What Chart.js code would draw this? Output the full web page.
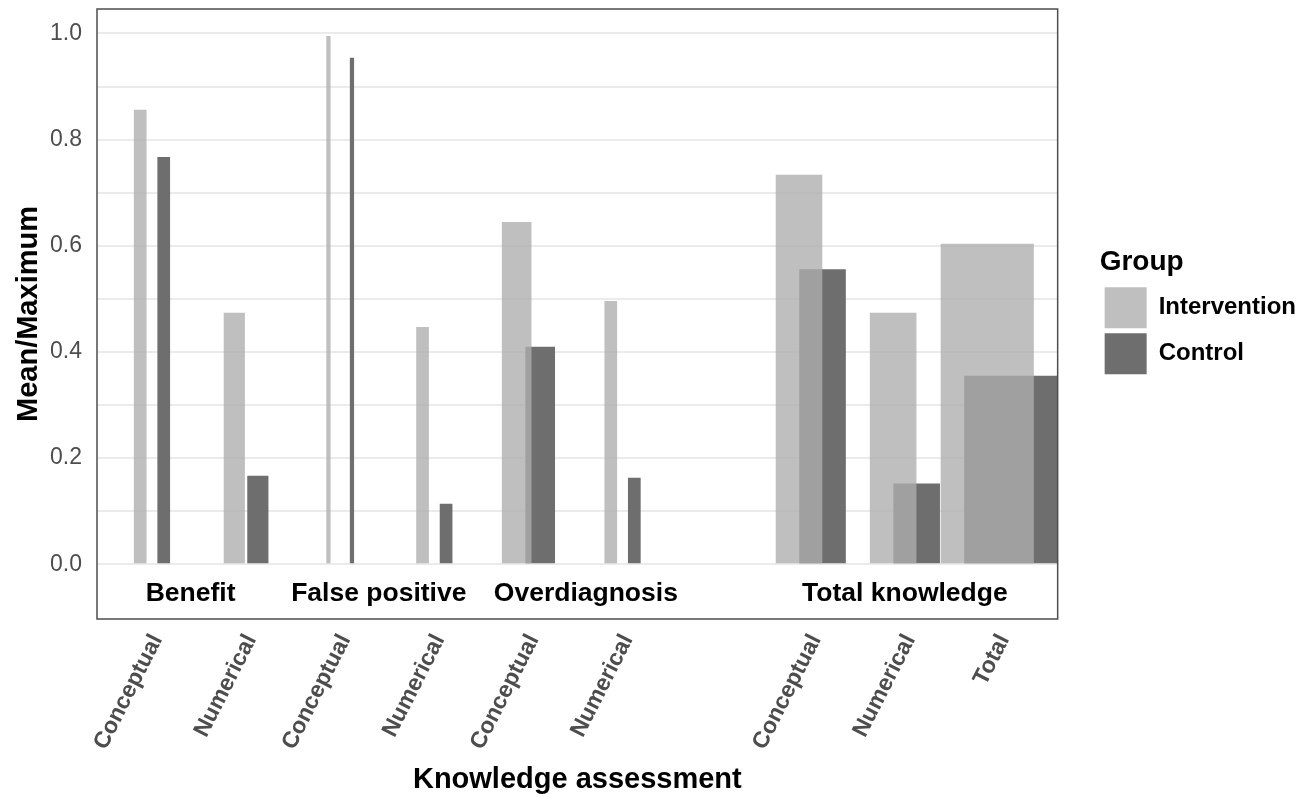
<!DOCTYPE html>
<html>
<head>
<meta charset="utf-8">
<script src="https://cdn.jsdelivr.net/npm/chart.js@4"></script>
<style>
  html, body { margin: 0; padding: 0; background: #fff; }
  #wrap { width: 1309px; height: 797px; }
</style>
</head>
<body>
<div id="wrap"><canvas id="chart"></canvas></div>
<script>
// item types along the x axis (slot 6 is left empty as a gap)
const slotLabels = ['Conceptual', 'Numerical', 'Conceptual', 'Numerical', 'Conceptual', 'Numerical', 'Conceptual', 'Numerical', 'Total'];
const slotPos = [0, 1, 2, 3, 4, 5, 7, 8, 9];
// number of questions behind each item type -> bar width
const itemCounts = [3, 5, 1, 3, 7, 3, 11, 11, 22];
// mean / maximum per group
const intervention = [0.856, 0.474, 0.995, 0.447, 0.645, 0.496, 0.734, 0.474, 0.604];
const control = [0.767, 0.167, 0.954, 0.114, 0.410, 0.163, 0.556, 0.152, 0.355];
// block headings drawn inside the panel
const groupLabels = ['Benefit', 'False positive', 'Overdiagnosis', 'Total knowledge'];
const groupLabelPos = [0.41, 2.41, 4.61, 8.0];
const yTicks = [0, 0.1, 0.2, 0.3, 0.4, 0.5, 0.6, 0.7, 0.8, 0.9, 1.0];

const dodge = 0.125;
const itemWidth = 0.045;   // x units per question
const minGap = 0.25;       // smallest gap between bar centres (what Chart.js uses as a "category")

Chart.defaults.font.family = '"Liberation Sans", Arial, Helvetica, sans-serif';
Chart.defaults.color = '#4d4d4d';

const datasets = [];
slotPos.forEach((pos, i) => {
    const ratio = itemCounts[i] * itemWidth / minGap;
    datasets.push({
        label: 'Intervention', data: [{ x: pos - dodge, y: intervention[i] }],
        backgroundColor: 'rgba(174,174,174,0.79)', borderWidth: 0,
        grouped: false, categoryPercentage: 1, barPercentage: ratio, order: 0
    });
    datasets.push({
        label: 'Control', data: [{ x: pos + dodge, y: control[i] }],
        backgroundColor: 'rgb(110,110,110)', borderWidth: 0,
        grouped: false, categoryPercentage: 1, barPercentage: ratio, order: 1
    });
});

const panelExtras = {
    id: 'panelExtras',
    afterDatasetsDraw(chart) {
        const { ctx, chartArea: a, scales: { x, y } } = chart;
        ctx.save();
        ctx.font = 'bold 26.5px "Liberation Sans", Arial, sans-serif';
        ctx.fillStyle = '#000';
        ctx.textAlign = 'center';
        ctx.textBaseline = 'middle';
        groupLabels.forEach((t, i) => ctx.fillText(t, x.getPixelForValue(groupLabelPos[i]), y.getPixelForValue(-0.056)));
        ctx.strokeStyle = '#4d4d4d';
        ctx.lineWidth = 1.5;
        ctx.strokeRect(a.left, a.top, a.right - a.left, a.bottom - a.top);
        ctx.restore();
    }
};

new Chart(document.getElementById('chart'), {
    type: 'bar',
    data: { datasets },
    plugins: [panelExtras],
    options: {
        responsive: true,
        maintainAspectRatio: false,
        animation: false,
        layout: { padding: { left: 14, top: 9, right: 3, bottom: 0 } },
        plugins: {
            tooltip: { enabled: false },
            legend: {
                position: 'right',
                align: 'center',
                fullSize: false,
                title: { display: true, text: 'Group', color: '#000', position: 'start',
                         font: { size: 28, weight: 'bold' }, padding: { top: 0, bottom: 0 } },
                labels: {
                    boxWidth: 42, boxHeight: 41, padding: 5, color: '#000',
                    font: { size: 24, weight: 'bold' },
                    filter: item => item.datasetIndex < 2
                }
            }
        },
        scales: {
            x: {
                type: 'linear',
                offset: false,
                min: -0.584,
                max: 9.623,
                afterBuildTicks: s => { s.ticks = slotPos.map(v => ({ value: v })); },
                afterFit: s => { s.paddingLeft = 0; s.paddingRight = 0; s.height = 178; },
                grid: { display: false },
                border: { display: false },
                ticks: {
                    autoSkip: false, minRotation: 63, maxRotation: 63, padding: 3, labelOffset: 5,
                    color: '#4d4d4d', font: { size: 23, weight: 'bold' },
                    callback: (v, i) => slotLabels[i]
                },
                title: { display: true, text: 'Knowledge assessment', color: '#000',
                         font: { size: 29, weight: 'bold' }, padding: { top: 6, bottom: 0 } }
            },
            y: {
                min: -0.103,
                max: 1.046,
                afterBuildTicks: s => { s.ticks = yTicks.map(v => ({ value: v })); },
                afterFit: s => { s.paddingTop = 0; s.paddingBottom = 0; s.width = 83; },
                grid: { color: '#ebebeb', lineWidth: 2, drawTicks: false },
                border: { display: false },
                ticks: {
                    padding: 15, color: '#4d4d4d', font: { size: 23 },
                    callback: v => (Math.round(v * 10) % 2 === 0 ? v.toFixed(1) : '')
                },
                title: { display: true, text: 'Mean/Maximum', color: '#000',
                         font: { size: 29, weight: 'bold', lineHeight: 1 }, padding: { top: 0, bottom: 8 } }
            },
            spacer: {
                type: 'linear',
                position: 'right',
                display: true,
                grid: { display: false },
                border: { display: false },
                ticks: { display: false },
                afterFit: s => { s.width = 42; }
            }
        }
    }
});
</script>
</body>
</html>
